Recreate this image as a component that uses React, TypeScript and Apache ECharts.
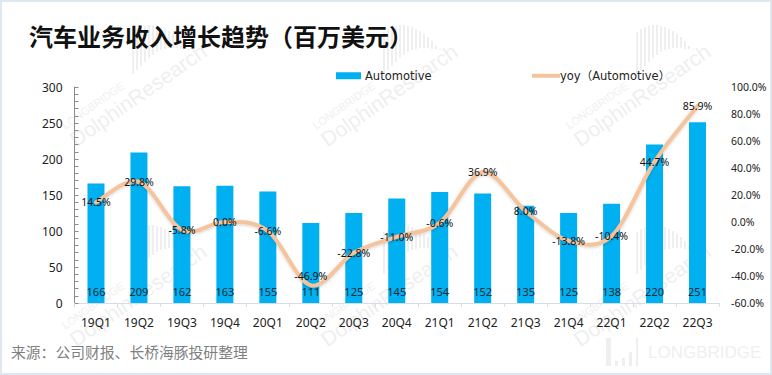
import React, { useEffect, useRef } from "react";
import * as echarts from "echarts";

const categories = ["19Q1","19Q2","19Q3","19Q4","20Q1","20Q2","20Q3","20Q4","21Q1","21Q2","21Q3","21Q4","22Q1","22Q2","22Q3"];
const revenue = [166,209,162,163,155,111,125,145,154,152,135,125,138,220,251];
const yoy = [14.5,29.8,-5.8,0.0,-6.6,-46.9,-22.8,-11.0,-0.6,36.9,8.0,-13.8,-10.4,44.7,85.9];
const FONT = "'Noto Sans', 'Noto Sans CJK SC', sans-serif";
const LEGEND_FONT = "'DejaVu Sans', 'Noto Sans CJK SC', sans-serif";
const WM = "#efefef";
const LINE = "#f5c39c";

function equalizer(ox: number, oy: number) {
  const tops = [0,-3,-5,-6,-7,-7,-6,-5,-3,-1,2,5,9,14,17];
  const bottoms = [42,38,34,30,26,23,20,18,17,16,16,16,17,17,18];
  return tops.map((t, i) => ({
    type: "rect",
    silent: true,
    z: 0,
    shape: { x: ox + i * 4, y: oy + t, width: 2, height: bottoms[i] - t },
    style: { fill: WM },
  }));
}

function tile(dx: number, dy: number) {
  return [
    {
      type: "text", silent: true, z: 0, x: dx + 78, y: dy + 150, rotation: (35 * Math.PI) / 180,
      style: { text: "DolphinResearch", font: "21px 'Liberation Sans', sans-serif", fill: WM, verticalAlign: "bottom" },
    },
    {
      type: "text", silent: true, z: 0, x: dx + 66, y: dy + 131, rotation: (35 * Math.PI) / 180,
      style: { text: "LONGBRIDGE", font: "11px 'Liberation Sans', sans-serif", fill: WM, verticalAlign: "bottom" },
    },
    ...equalizer(dx + 132, dy + 32),
  ];
}

// Catmull-Rom segment from point i to point i+1, with its value label on top.
function renderYoy(params: any, api: any) {
  const i = params.dataIndex;
  const n = params.dataInsideLength;
  const pt = (k: number) => {
    const j = Math.max(0, Math.min(n - 1, k));
    return api.coord([api.value(0, j), api.value(1, j)]);
  };
  const p = pt(i);
  const children: any[] = [];
  if (i < n - 1) {
    const a = pt(i - 1);
    const b = pt(i + 1);
    const c = pt(i + 2);
    children.push({
      type: "bezierCurve",
      z2: 1,
      shape: {
        x1: p[0], y1: p[1], x2: b[0], y2: b[1],
        cpx1: p[0] + (b[0] - a[0]) / 6, cpy1: p[1] + (b[1] - a[1]) / 6,
        cpx2: b[0] - (c[0] - p[0]) / 6, cpy2: b[1] - (c[1] - p[1]) / 6,
      },
      style: { fill: "none", stroke: LINE, lineWidth: 4, lineCap: "round", shadowColor: "rgba(0,0,0,0.18)", shadowBlur: 3, shadowOffsetY: 1 },
    });
  }
  // A label that would run into the bar's own value label sits higher.
  const lift = p[1] > 280 ? 9 : 0;
  children.push({
    type: "text",
    z2: 10,
    x: p[0],
    y: p[1] - lift,
    style: {
      text: api.value(1).toFixed(1) + "%",
      align: "center",
      verticalAlign: "middle",
      font: "10.5px " + FONT,
      fill: "#111",
    },
  });
  return { type: "group", children };
}

export default function App() {
  const ref = useRef<HTMLDivElement>(null);
  useEffect(() => {
    const chart = echarts.init(ref.current!, null, { renderer: "svg" });
    chart.setOption({
      animation: false,
      backgroundColor: "#ffffff",
      grid: { left: 74.5, right: 53, top: 87, bottom: 72 },
      legend: [
        {
          left: 331, top: 65, itemWidth: 25, itemHeight: 7, data: [{ name: "Automotive", icon: "rect" }],
          textStyle: { fontFamily: LEGEND_FONT, fontSize: 11.5, color: "#222", padding: [0, 0, 0, -1] },
        },
        {
          left: 527, top: 65, itemWidth: 28, itemHeight: 4, data: [{ name: "yoy（Automotive）", icon: "rect" }],
          textStyle: { fontFamily: LEGEND_FONT, fontSize: 11.5, color: "#222", padding: [0, 0, 0, -5] },
        },
      ],
      xAxis: {
        type: "category",
        data: categories,
        axisLine: { lineStyle: { color: "#d3deea", width: 1 } },
        axisTick: { show: true, alignWithLabel: false, length: 4, lineStyle: { color: "#d3deea" } },
        axisLabel: { interval: 0, margin: 13, fontFamily: FONT, fontSize: 12, color: "#222" },
      },
      yAxis: [
        {
          type: "value", min: 0, max: 300, interval: 50, splitLine: { show: false },
          axisLine: { show: true, lineStyle: { color: "#8c8c8c" } },
          axisTick: { show: true, inside: true, length: 4, lineStyle: { color: "#8c8c8c" } },
          minorTick: { show: true, splitNumber: 5, length: 4, lineStyle: { color: "#8c8c8c" } },
          axisLabel: { margin: 12, fontFamily: FONT, fontSize: 12, color: "#222" },
        },
        {
          type: "value", min: -60, max: 100, interval: 20, position: "right", splitLine: { show: false },
          axisLine: { show: false }, axisTick: { show: false },
          axisLabel: { margin: 12, fontFamily: FONT, fontSize: 10.5, color: "#222", formatter: (v: number) => v.toFixed(1) + "%" },
        },
      ],
      series: [
        {
          name: "Automotive", type: "bar", data: revenue, barWidth: 17, z: 2,
          itemStyle: { color: "#00b0f0" },
          label: { show: true, position: "insideBottom", distance: 6, fontFamily: FONT, fontSize: 11, color: "#1b2a33" },
        },
        {
          name: "yoy（Automotive）", type: "custom", yAxisIndex: 1, z: 3, clip: false,
          data: yoy.map((v, i) => [i, v]),
          encode: { x: 0, y: 1 },
          itemStyle: { color: LINE },
          renderItem: renderYoy,
        },
      ],
      graphic: [
        ...tile(0, 0), ...tile(251, 0), ...tile(504, 0),
        ...tile(0, 200), ...tile(251, 200), ...tile(504, 200),
        { type: "text", silent: true, z: 0, x: 648, y: 344, style: { text: "LONGBRIDGE", font: "17px 'Liberation Sans', sans-serif", fill: WM } },
        { type: "rect", silent: true, z: 0, shape: { x: 606, y: 338, width: 5, height: 28 }, style: { fill: WM } },
        { type: "rect", silent: true, z: 0, shape: { x: 615, y: 361, width: 3, height: 5 }, style: { fill: WM } },
        { type: "rect", silent: true, z: 0, shape: { x: 622, y: 358, width: 3, height: 8 }, style: { fill: WM } },
        { type: "rect", silent: true, z: 0, shape: { x: 629, y: 352, width: 3, height: 14 }, style: { fill: WM } },
        { type: "rect", silent: true, z: 0, shape: { x: 636, y: 338, width: 2, height: 28 }, style: { fill: WM } },
        { type: "text", z: 5, x: 29, y: 23, style: { text: "汽车业务收入增长趋势（百万美元）", font: "bold 24px 'Noto Sans CJK SC', sans-serif", fill: "#111" } },
        { type: "text", z: 5, x: 11, y: 344, style: { text: "来源：公司财报、长桥海豚投研整理", font: "14.8px 'Noto Sans CJK SC', sans-serif", fill: "#7f7f7f" } },
        { type: "rect", z: 6, silent: true, shape: { x: 1, y: 1, width: 770, height: 373 }, style: { fill: "none", stroke: "#dfe8f2", lineWidth: 2 } },
      ],
    });
    return () => chart.dispose();
  }, []);
  return <div ref={ref} style={{ position: "absolute", left: 0, top: 0, width: 772, height: 375 }} />;
}
